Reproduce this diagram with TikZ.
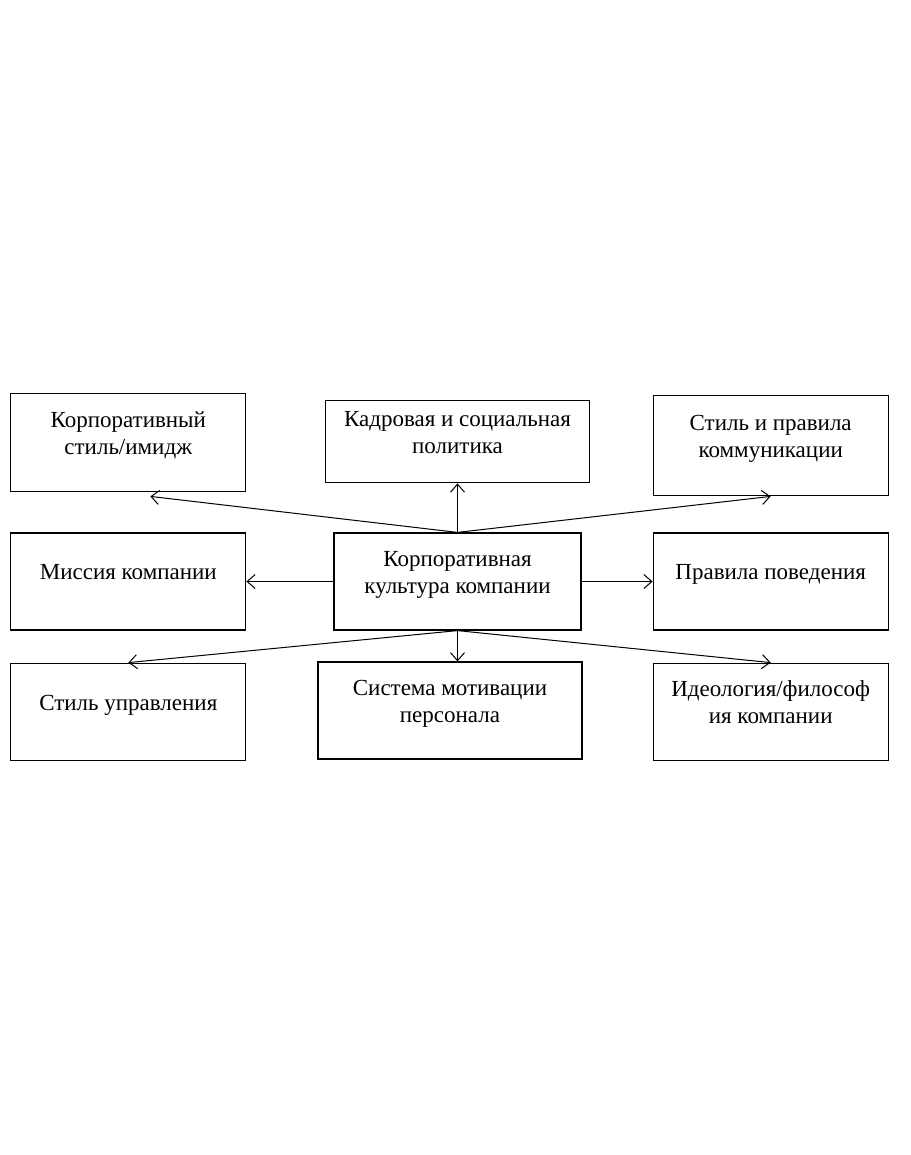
\documentclass[tikz,border=0pt]{standalone}
\usepackage{fontspec}
\setmainfont{Liberation Serif}
\usetikzlibrary{positioning}
\usetikzlibrary{arrows.meta}
\newcommand{\boxtext}[1]{\begin{tabular}{@{}c@{}}#1\\[14pt]\end{tabular}}

\begin{document}
\begin{tikzpicture}[x=1pt, y=-1pt,
  box/.style = {draw, line width=1.2pt, minimum width=235pt, minimum height=97pt, inner sep=0pt,
    font=\fontsize{23}{27}\selectfont},
  arr/.style = {draw, line width=1pt, -{Straight Barb[length=8pt,width=14pt]}}]
          \useasboundingbox (0,0) rectangle (910,1155);
          \node[box, minimum width=247pt](kult) at (457.5,581.5){\boxtext{Корпоративная\\культура компании}};
          \node[box](missia)[left=87pt of kult]{\boxtext{Миссия компании}};
          \node[box](pravila)[right=71pt of kult]{\boxtext{Правила поведения}};
          \node[box, minimum height=98pt](stil)[above=40pt of missia]{\boxtext{Корпоративный\\стиль/имидж}};
          \node[box, minimum width=264pt, minimum height=82pt](kadr)[above=49pt of kult]{\boxtext{Кадровая и социальная\\политика}};
          \node[box, minimum height=100pt](komm)[above=36pt of pravila]{\boxtext{Стиль и правила\\коммуникации}};
          \node[box](upr)[below=32pt of missia]{\boxtext{Стиль управления}};
          \node[box, minimum width=264pt](motiv) at (450,710.5){\boxtext{Система мотивации\\персонала}};
          \node[box](ideol)[below=32pt of pravila]{\boxtext{Идеология/философ\\ия компании}};
          \draw[arr] (kult.north) -- ([xshift=22pt,yshift=-4pt]stil.south);
          \draw[arr] (kult.north) -- (kadr.south);
          \draw[arr] (kult.north) -- (komm.south);
          \draw[arr] (kult.west) -- (missia.east);
          \draw[arr] (kult.east) -- (pravila.west);
          \draw[arr] (kult.south) -- (upr.north);
          \draw[arr] (kult.south) -- (kult.south |- motiv.north);
          \draw[arr] (kult.south) -- (ideol.north);
        \end{tikzpicture}
\end{document}
